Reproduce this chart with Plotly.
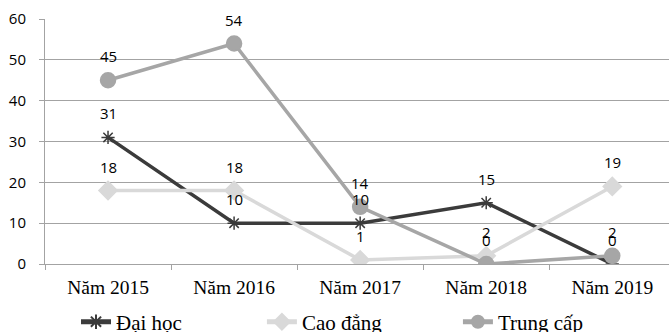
import plotly.graph_objects as go

# Data
years = ["Năm 2015", "Năm 2016", "Năm 2017", "Năm 2018", "Năm 2019"]
dai_hoc = [31, 10, 10, 15, 0]
cao_dang = [18, 18, 1, 2, 19]
trung_cap = [45, 54, 14, 0, 2]

series = [
    ("Đại học", dai_hoc, "#3b3b3b", "asterisk-open", 11, "legend"),
    ("Cao đẳng", cao_dang, "#d9d9d9", "diamond", 14, "legend2"),
    ("Trung cấp", trung_cap, "#a6a6a6", "circle", 15, "legend3"),
]

label_font = dict(family="Open Sans", size=15, color="#000000")
serif = "Liberation Serif"
grid = "#a3a3a3"

fig = go.Figure()
annotations = []
for name, vals, color, symbol, msize, leg in series:
    fig.add_trace(go.Scatter(
        x=years, y=vals, name=name, mode="lines+markers",
        line=dict(color=color, width=3.5),
        marker=dict(symbol=symbol, size=msize, color=color,
                    line=dict(color=color, width=1.5)),
        legend=leg,
    ))
    for x, v in zip(years, vals):
        annotations.append(dict(
            x=x, y=v, xref="x", yref="y", text=str(v), showarrow=False,
            yshift=24, font=label_font,
        ))

legend_common = dict(
    orientation="h", xref="container", yref="container",
    yanchor="middle", xanchor="left", y=0.03,
    font=dict(family=serif, size=21, color="#000000"),
    bgcolor="rgba(0,0,0,0)", itemwidth=30, itemsizing="constant",
)

fig.update_layout(
    width=669, height=332,
    margin=dict(l=45, r=0, t=19, b=67.5),
    paper_bgcolor="white", plot_bgcolor="white",
    showlegend=True,
    legend=dict(x=0.1136, **legend_common),
    legend2=dict(x=0.3915, **legend_common),
    legend3=dict(x=0.6845, **legend_common),
    annotations=annotations,
    xaxis=dict(
        type="category", categoryorder="array", categoryarray=years,
        range=[-0.5, 4.45], tickson="boundaries",
        showline=True, linecolor=grid, linewidth=1,
        ticks="outside", ticklen=5, tickcolor=grid,
        showgrid=False, zeroline=False,
        tickfont=dict(family=serif, size=19.5, color="#000000"),
        ticklabelstandoff=6,
    ),
    yaxis=dict(
        range=[0, 60], dtick=10, tick0=0,
        showline=True, linecolor=grid, linewidth=1,
        ticks="outside", ticklen=5, tickcolor=grid,
        showgrid=True, gridcolor=grid, gridwidth=1.3,
        zeroline=False,
        tickfont=dict(family="Open Sans", size=15, color="#000000"),
        ticklabelstandoff=10,
    ),
)

fig.write_html("out.html")
